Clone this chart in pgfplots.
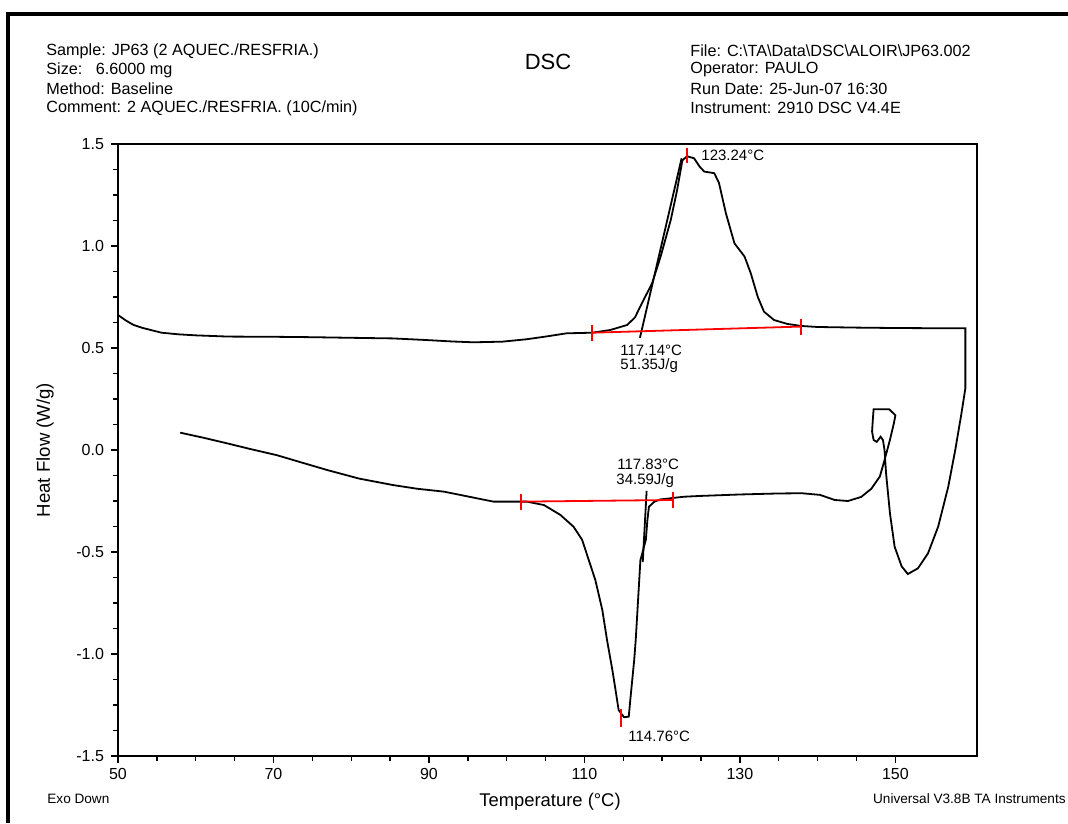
\documentclass[border=0pt]{standalone}
\usepackage{fontspec}
\setmainfont{Liberation Sans}
\usepackage{pgfplots}
\pgfplotsset{compat=1.18}
\newcommand{\fs}[1]{\fontsize{#1}{#1}\selectfont}
\begin{document}
\begin{tikzpicture}
\begin{scope}[x=0.5pt,y=-0.5pt]
\useasboundingbox (0,0) rectangle (1068,823);
\draw[line width=2.3pt] (8,823) -- (8,14) -- (1068,14);
\begin{scope}[every node/.style={inner sep=0pt, font=\fs{8.1}}]
\node[anchor=west] at (46,51) {Sample: JP63 (2 AQUEC./RESFRIA.)};
\node[anchor=west] at (46,70) {Size:\ \ \ 6.6000 mg};
\node[anchor=west] at (46,89) {Method: Baseline};
\node[anchor=west] at (46,108) {Comment: 2 AQUEC./RESFRIA. (10C/min)};
\node[anchor=west] at (690,51) {File: C:\textbackslash TA\textbackslash Data\textbackslash DSC\textbackslash ALOIR\textbackslash JP63.002};
\node[anchor=west] at (690,70) {Operator: PAULO};
\node[anchor=west] at (690,89) {Run Date: 25-Jun-07 16:30};
\node[anchor=west] at (690,108) {Instrument: 2910 DSC V4.4E};
\end{scope}
\node[inner sep=0pt, font=\fs{11}] at (548,62) {DSC};
\node[inner sep=0pt, font=\fs{9.3}, rotate=90] at (45,450) {Heat Flow (W/g)};
\node[inner sep=0pt, font=\fs{9.2}] at (550,802) {Temperature (°C)};
\node[inner sep=0pt, font=\fs{6.8}, anchor=west] at (47,799) {Exo Down};
\node[inner sep=0pt, font=\fs{6.8}, anchor=east] at (1066,799) {Universal V3.8B TA Instruments};
\begin{scope}[every node/.style={inner sep=0pt, font=\fs{7.5}, anchor=west}]
\node at (701,155) {123.24°C};
\node at (620,350) {117.14°C};
\node at (620,366) {51.35J/g};
\node at (617,464) {117.83°C};
\node at (616,481) {34.59J/g};
\node at (628,736) {114.76°C};
\end{scope}
\end{scope}
\begin{axis}[
  at={(59pt,-378pt)}, anchor=south west,
  width=429.5pt, height=306pt, scale only axis,
  xmin=50, xmax=160.5, ymin=-1.5, ymax=1.5,
  xtick={50,70,90,110,130,150}, minor x tick num=3,
  ytick={-1.5,-1,-0.5,0,0.5,1,1.5}, minor y tick num=3,
  tick align=outside, xtick pos=left, ytick pos=left,
  major tick length=3.5pt, minor tick length=2.5pt,
  axis line style={line width=0.9pt},
  every tick/.style={black, line width=0.7pt},
  /pgf/number format/assume math mode=true,
  yticklabel style={/pgf/number format/fixed, /pgf/number format/fixed zerofill, /pgf/number format/precision=1},
  tick label style={font=\fs{8}},
  xticklabel style={yshift=1pt},
]
\addplot[black, line width=0.9pt] coordinates {
(50,0.662)(51,0.635)(52,0.613)(53.2,0.598)(55.6,0.575)(57.8,0.567)(60,0.562)(64.2,0.556)(70,0.555)(75,0.553)(80,0.55)(85.4,0.547)(89.7,0.539)(93,0.532)(95.7,0.528)(99.4,0.531)(102.6,0.543)(105,0.556)(107.7,0.572)(111,0.575)(113.3,0.588)(115.5,0.613)(116.5,0.65)(117.4,0.72)(118.7,0.817)(119.8,0.948)(121.1,1.127)(121.9,1.27)(122.6,1.42)(123.2,1.44)(124.1,1.43)(124.8,1.39)(125.4,1.365)(126.2,1.36)(126.7,1.357)(127.3,1.31)(128.2,1.16)(129.3,1.013)(130.6,0.948)(131.4,0.866)(132.3,0.75)(133.1,0.678)(134.4,0.637)(136.1,0.618)(137.9,0.608)(140,0.603)(145,0.6)(150,0.598)(155,0.597)(159.0,0.597)
(159.0,0.302)(158.5,0.18)(157.7,0.0)(156.8,-0.18)(155.5,-0.376)(154.2,-0.506)(152.9,-0.58)(151.6,-0.608)(150.8,-0.57)(149.9,-0.474)(149.3,-0.31)(148.8,-0.114)(148.6,0.0)(148.4,0.049)(148.1,0.065)(147.6,0.04)(147.2,0.049)(147.0,0.09)(147.1,0.15)(147.2,0.2)(149.2,0.2)(150.0,0.17)(149.8,0.13)(149.3,0.05)(148.6,-0.05)(148.0,-0.13)(146.9,-0.19)(145.6,-0.23)(143.9,-0.25)(142.2,-0.245)(140.3,-0.22)(138,-0.212)(135,-0.213)(130,-0.218)(125,-0.225)(122.8,-0.229)(121.4,-0.235)(120.6,-0.239)(119.8,-0.242)(119.0,-0.253)(118.3,-0.278)(118.1,-0.343)(117.9,-0.44)(117.2,-0.54)(116.6,-0.93)(116.4,-1.03)(115.9,-1.225)(115.7,-1.307)(115.1,-1.31)(114.4,-1.275)(114.0,-1.176)(113.6,-1.08)(112.9,-0.93)(112.3,-0.784)(111.4,-0.637)(109.7,-0.44)(108.6,-0.376)(106.9,-0.318)(104.8,-0.27)(102.6,-0.253)(101.9,-0.253)(98.3,-0.253)(96.2,-0.237)(94,-0.22)(91.9,-0.204)(88.5,-0.19)(85.4,-0.172)(81,-0.14)(76.9,-0.098)(73.5,-0.06)(70.4,-0.025)(67,0.005)(64,0.033)(61,0.06)(58,0.085)
};
% tangent lines
\addplot[black, line width=0.9pt] coordinates {(117.14,0.55)(122.5,1.43)};
\addplot[black, line width=0.9pt] coordinates {(118.0,-0.20)(117.5,-0.55)};
% baselines
\addplot[red, line width=0.9pt, mark=|, mark size=4pt, mark options={red, line width=1pt}] coordinates {(111.0,0.575)(137.8,0.605)};
\addplot[red, line width=0.9pt, mark=|, mark size=4pt, mark options={red, line width=1pt}] coordinates {(101.9,-0.253)(121.4,-0.245)};
% peak markers
\addplot[red, line width=1pt, mark=none] coordinates {(123.24,1.48)(123.24,1.405)};
\addplot[red, line width=1pt, mark=none] coordinates {(114.76,-1.27)(114.76,-1.358)};
\end{axis}
\end{tikzpicture}
\end{document}
